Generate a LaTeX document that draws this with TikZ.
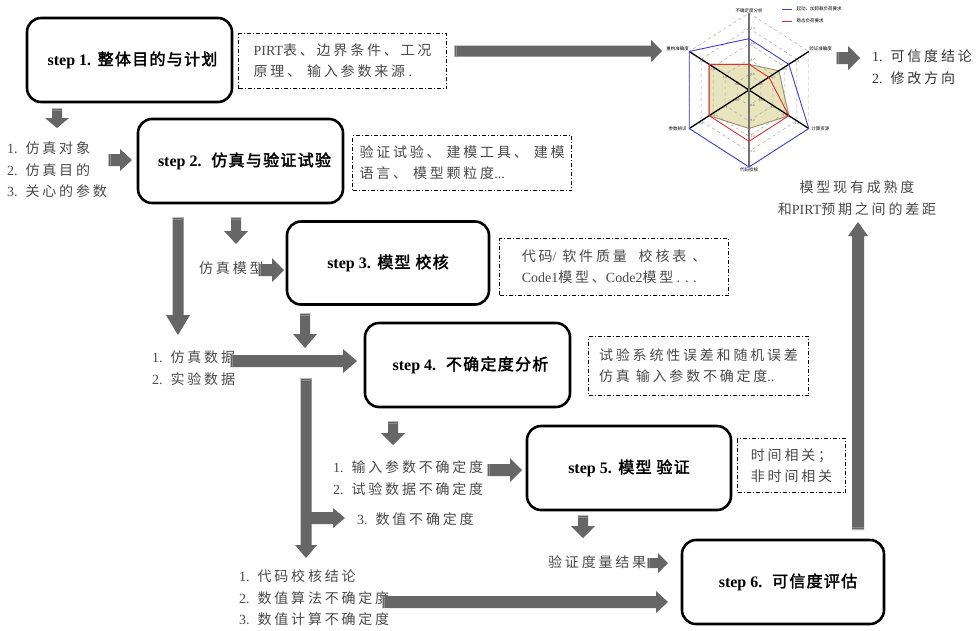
\documentclass[tikz,border=0pt]{standalone}
\usepackage{fontspec}
\setmainfont{Liberation Serif}
\newfontfamily\cjk{Noto Sans CJK SC}[AutoFakeBold=2]
\newfontfamily\cjkb{Noto Sans CJK SC}[AutoFakeBold=2.2,LetterSpace=8]
\newfontfamily\cjkg{Noto Sans CJK SC}[LetterSpace=20]
\newfontfamily\latf{Liberation Serif}
\newcommand\lat[1]{{\latf #1}}
\definecolor{ag}{HTML}{666666}
\definecolor{agsA}{HTML}{B8B8B8}
\definecolor{agsB}{HTML}{8C8C8C}
\definecolor{txtgray}{HTML}{4A4A4A}
\definecolor{olivefill}{HTML}{E8E5BE}
\definecolor{oliveedge}{HTML}{9C8C68}
\definecolor{gridgray}{HTML}{A0A0A0}
\definecolor{radred}{HTML}{E03030}
\definecolor{radblue}{HTML}{4040D8}
% right arrow: x1, x2(tip), y, shaft half, head half, head length
\newcommand\rarrplain[6]{%
 \fill[ag] (#1,#3-#4) -- (#2-#6,#3-#4) -- (#2-#6,#3-#5) -- (#2,#3) -- (#2-#6,#3+#5) -- (#2-#6,#3+#4) -- (#1,#3+#4) -- cycle;}
\newcommand\rarr[6]{%
 \rarrplain{#1}{#2}{#3}{#4}{#5}{#6}
 \fill[agsA] (#1,#3-#4) rectangle (#1+1.2,#3+#4);
 \fill[agsB] (#1+2.2,#3-#4) rectangle (#1+3.2,#3+#4);}
% down arrow: x, y1(top), y2(tip), shaft half, head half, head length
\newcommand\darr[6]{%
 \fill[ag] (#1-#4,#2) -- (#1-#4,#3-#6) -- (#1-#5,#3-#6) -- (#1,#3) -- (#1+#5,#3-#6) -- (#1+#4,#3-#6) -- (#1+#4,#2) -- cycle;
 \fill[agsA] (#1-#4,#2) rectangle (#1+#4,#2+1.2);
 \fill[agsB] (#1-#4,#2+2.2) rectangle (#1+#4,#2+3.2);}
% up arrow: x, y1(bottom), y2(tip), shaft half, head half, head length
\newcommand\uarr[6]{%
 \fill[ag] (#1-#4,#2) -- (#1-#4,#3+#6) -- (#1-#5,#3+#6) -- (#1,#3) -- (#1+#5,#3+#6) -- (#1+#4,#3+#6) -- (#1+#4,#2) -- cycle;
 \fill[agsA] (#1-#4,#2) rectangle (#1+#4,#2-1.2);
 \fill[agsB] (#1-#4,#2-2.2) rectangle (#1+#4,#2-3.2);}
\begin{document}
\begin{tikzpicture}[x=1pt,y=-1pt,
  stepbox/.style={draw, line width=2.6pt, rounded corners=14pt, inner sep=0pt,
    font=\fontsize{16}{18}\selectfont\cjkb\bfseries},
  note/.style={draw, line width=1.1pt, dash pattern=on 4pt off 2pt on 1pt off 2pt,
    inner sep=0pt, anchor=north west, text=txtgray, align=left,
    font=\fontsize{14}{21}\selectfont\cjkg},
  gtext/.style={text=txtgray, align=left, inner sep=0pt,
    font=\fontsize{14}{21.5}\selectfont\cjkg},
  radlab/.style={inner sep=0.3pt, font=\fontsize{4.5}{5}\selectfont\cjk},
  tick/.style={inner sep=0.2pt, text=black!70, font=\fontsize{3.2}{3.5}\selectfont\latf}]
\useasboundingbox (0,0) rectangle (978,630);
\fill[white] (0,0) rectangle (978,630);

% ---------- step boxes ----------
\node[stepbox, minimum width=205pt, minimum height=84pt] (s1) at (129.5,60) {\hspace*{6pt}\lat{step 1.} 整体目的与计划};
\node[stepbox, minimum width=205pt, minimum height=84pt] (s2) at (240.5,161) {\hspace*{8pt}\lat{step 2.}\ \ 仿真与验证试验};
\node[stepbox, minimum width=202pt, minimum height=83pt] (s3) at (388,263) {\lat{step 3.} 模型 校核};
\node[stepbox, minimum width=205pt, minimum height=84pt] (s4) at (467.5,365) {\hspace*{6pt}\lat{step 4.}\ \ 不确定度分析};
\node[stepbox, minimum width=204pt, minimum height=84pt] (s5) at (629,468) {\lat{step 5.} 模型 验证};
\node[stepbox, minimum width=202pt, minimum height=84pt] (s6) at (783,582) {\hspace*{10pt}\lat{step 6.}\ \ 可信度评估};

% ---------- dashed notes ----------
\node[note, minimum width=208pt, minimum height=55pt] (n1) at (238,33) {\lat{PIRT}表、边界条件、工况\\原理、 输入参数来源\lat{ .}};
\node[note, minimum width=219pt, minimum height=55pt] (n2) at (352,135) {验证试验、 建模工具、 建模\\语言、 模型颗粒度\lat{...}};
\node[note, minimum width=229pt, minimum height=57pt] (n3) at (499,238) {代码\lat{/} 软件质量\ \ 校核表 、\\\lat{Code1}模型、\lat{Code2}模型\lat{ . . .}};
\node[note, minimum width=220pt, minimum height=59pt] (n4) at (588,336) {试验系统性误差和随机误差\\仿真 输入参数不确定度\lat{..}};
\node[note, minimum width=108pt, minimum height=54pt] (n5) at (737,438) {时间相关；\\非时间相关};

% ---------- free texts ----------
\node[gtext, anchor=west] (l1) at (7,170) {\lat{1.} 仿真对象\\\lat{2.} 仿真目的\\\lat{3.} 关心的参数};
\node[gtext, anchor=west] (l2) at (199,268) {仿真模型};
\node[gtext, anchor=west] (l3) at (152,368) {\lat{1.} 仿真数据\\\lat{2.} 实验数据};
\node[gtext, anchor=west] (l4) at (333,478) {\lat{1.} 输入参数不确定度\\\lat{2.} 试验数据不确定度};
\node[gtext, anchor=west] (l5) at (357,519) {\lat{3.} 数值不确定度};
\node[gtext, anchor=west] (l6) at (548,562) {验证度量结果};
\node[gtext, anchor=west, text=black!80] (l8) at (872,67) {\lat{1.} 可信度结论\\\lat{2.} 修改方向};
\node[gtext, anchor=west] (l7) at (239,598) {\lat{1.} 代码校核结论\\\lat{2.} 数值算法不确定度\\\lat{3.} 数值计算不确定度};
\node[gtext, align=center] (l9) at (857,198) {模型现有成熟度\\和\lat{PIRT}预期之间的差距};

% ---------- radar chart ----------
\begin{scope}[shift={(749,90)}, x=23pt, y=25.67pt]
  \filldraw[fill=olivefill, draw=oliveedge, line width=0.9pt]
    (90:1) -- (30:1.5) -- (-30:2) -- (-90:1.5) -- (210:2) -- (150:2) -- cycle;
  \foreach \r in {0.6,1.2,1.8,2.4,3}
    \draw[gridgray, dashed, line width=0.45pt]
      (90:\r) -- (30:\r) -- (-30:\r) -- (-90:\r) -- (210:\r) -- (150:\r) -- cycle;
  \draw[black, line width=1.3pt] (150:3) -- (-30:3);
  \draw[black, line width=1.3pt] (210:3) -- (30:3);
  \draw[black!55, line width=2pt] (90:3) -- (-90:3);
  \draw[radred, line width=0.9pt]
    (90:1) -- (30:1) -- (-30:2) -- (-90:2) -- (210:2) -- (150:2) -- cycle;
  \draw[radblue, line width=0.9pt]
    (90:2) -- (30:2) -- (-30:3) -- (-90:3) -- (210:3) -- (150:3) -- cycle;
  \foreach \r in {0.6,1.2,1.8,2.4} {
    \node[tick, anchor=west] at ([xshift=1.2pt]90:\r) {\r};
    \node[tick, anchor=west] at ([xshift=1.2pt]-90:\r) {\r};
    \node[tick, anchor=north] at ([yshift=-1pt]30:\r) {\r};
    \node[tick, anchor=north] at ([yshift=-1pt]-30:\r) {\r};
    \node[tick, anchor=north] at ([yshift=-1pt]150:\r) {\r};
    \node[tick, anchor=north] at ([yshift=-1pt]210:\r) {\r};
  }
  \node[radlab, anchor=south] (ra1) at (90:3) {不确定度分析};
  \node[radlab, anchor=south west] (ra2) at (30:3) {验证准确度};
  \node[radlab, anchor=west] (ra3) at ([xshift=2pt]-30:3) {计算资源};
  \node[radlab, anchor=north] (ra4) at (-90:3) {代码校核};
  \node[radlab, anchor=east] (ra5) at ([xshift=-2pt]210:3) {参数辨识};
  \node[radlab, anchor=south east] (ra6) at (150:3) {重构准确度};
\end{scope}
\draw[radblue, line width=0.8pt] (782,9) -- (792,9);
\node[radlab, anchor=west] (lg1) at (796,9) {起动、加卸载负荷要求};
\draw[radred, line width=0.8pt] (782,21) -- (792,21);
\node[radlab, anchor=west] (lg2) at (796,21) {稳态负荷要求};

% ---------- block arrows ----------
\rarr{454}{662}{51}{5.5}{11}{11}
\rarr{836}{860}{58}{6}{12}{12}
\darr{57}{108}{128}{5}{12}{10}
\rarr{108}{132}{160}{6}{11}{12}
\darr{178}{217}{335}{5.5}{12}{20}
\darr{236}{217}{244}{5}{12}{13}
\rarr{258}{284}{270}{6}{12}{12}
\darr{305}{313}{348}{5}{12}{14}
\rarr{230}{357}{361}{6}{12}{14}
\darr{306}{378}{558}{5.5}{11}{13}
\rarrplain{311}{345}{518}{6}{10}{12}
\darr{393}{421}{445}{5}{12}{12}
\rarr{487}{522}{470}{6}{12}{12}
\darr{583}{515}{538}{5}{12}{12}
\rarr{647}{668}{563}{5}{10}{10}
\rarr{382}{668}{602}{6}{11}{12}
\uarr{858}{530}{222}{6}{10}{14}
\end{tikzpicture}
\end{document}
